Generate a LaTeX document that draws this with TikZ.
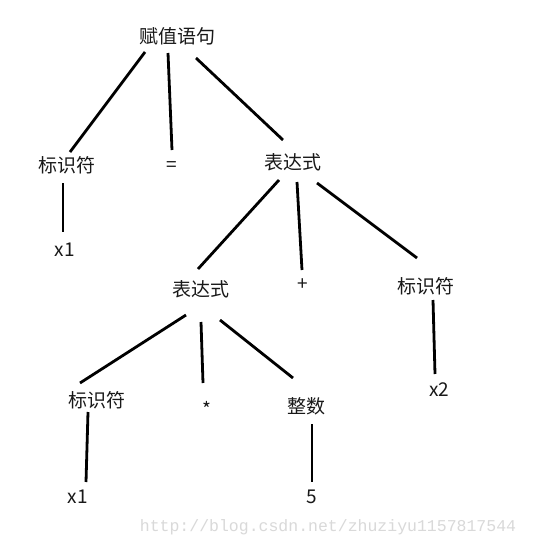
\documentclass[tikz,border=0pt]{standalone}
\usepackage{fontspec}
\usepackage{xcolor}
\usepackage{tikz}
\usetikzlibrary{calc}
\newfontfamily\cjk{Noto Sans CJK SC}
\newfontfamily\wmfont{Liberation Mono}

\begin{document}
\begin{tikzpicture}[x=1pt,y=-1pt,
		lbl/.style={font=\cjk\fontsize{19}{21}\selectfont, text=black!90, inner sep=0pt},
		branch/.style={line width=2.8pt, black}]
			\useasboundingbox[fill=white] (0,0) rectangle (538,546);
			%
			\node [lbl] (s) at (177,36) {赋值语句};
			\node [lbl] (id1) at (67,165) {标识符};
			\node [lbl] (eq) at (172,167) {=};
			\node [lbl] (e1) at (293,162) {表达式};
			\node [lbl] (x1) at (65,250) {x1};
			\node [lbl] (e2) at (201,289) {表达式};
			\node [lbl] (plus) at (303,285) {+};
			\node [lbl] (id2) at (426,286) {标识符};
			\node [lbl] (x2) at (439,390) {x2};
			\node [lbl] (id3) at (97,400) {标识符};
			\node [lbl] (star) at (207,409) {*};
			\node [lbl] (num) at (306,406) {整数};
			\node [lbl] (x3) at (78,497) {x1};
			\node [lbl] (five) at (312,497) {5};
			\node [font=\wmfont\fontsize{16.5}{16.5}\selectfont, text=black!15, inner sep=0pt] (wm) at (328,527) {http://blog.csdn.net/zhuziyu1157817544};
			%
			\draw [branch] ($(s)+(-32,16)$) -- ($(id1)+(3,-13)$);
			\draw [branch] ($(s)+(-9,17)$) -- ($(eq)+(0,-17)$);
			\draw [branch] ($(s)+(19,22)$) -- ($(e1)+(-10,-22)$);
			\draw [branch] ($(id1)+(-4,18)$) -- ($(x1)+(-2,-18)$);
			\draw [branch] ($(e1)+(-14,18)$) -- ($(e2)+(-3,-20)$);
			\draw [branch] ($(e1)+(4,20)$) -- ($(plus)+(-1,-15)$);
			\draw [branch] ($(e1)+(24,21)$) -- ($(id2)+(-9,-28)$);
			\draw [branch] ($(id2)+(7,14)$) -- ($(x2)+(-4,-16)$);
			\draw [branch] ($(e2)+(-15,26)$) -- ($(id3)+(-17,-17)$);
			\draw [branch] ($(e2)+(0,33)$) -- ($(star)+(-4,-26)$);
			\draw [branch] ($(e2)+(19,31)$) -- ($(num)+(-13,-28)$);
			\draw [branch] ($(id3)+(-9,12)$) -- ($(x3)+(8,-15)$);
			\draw [branch] ($(num)+(6,18)$) -- ($(five)+(0,-15)$);
\end{tikzpicture}
\end{document}
